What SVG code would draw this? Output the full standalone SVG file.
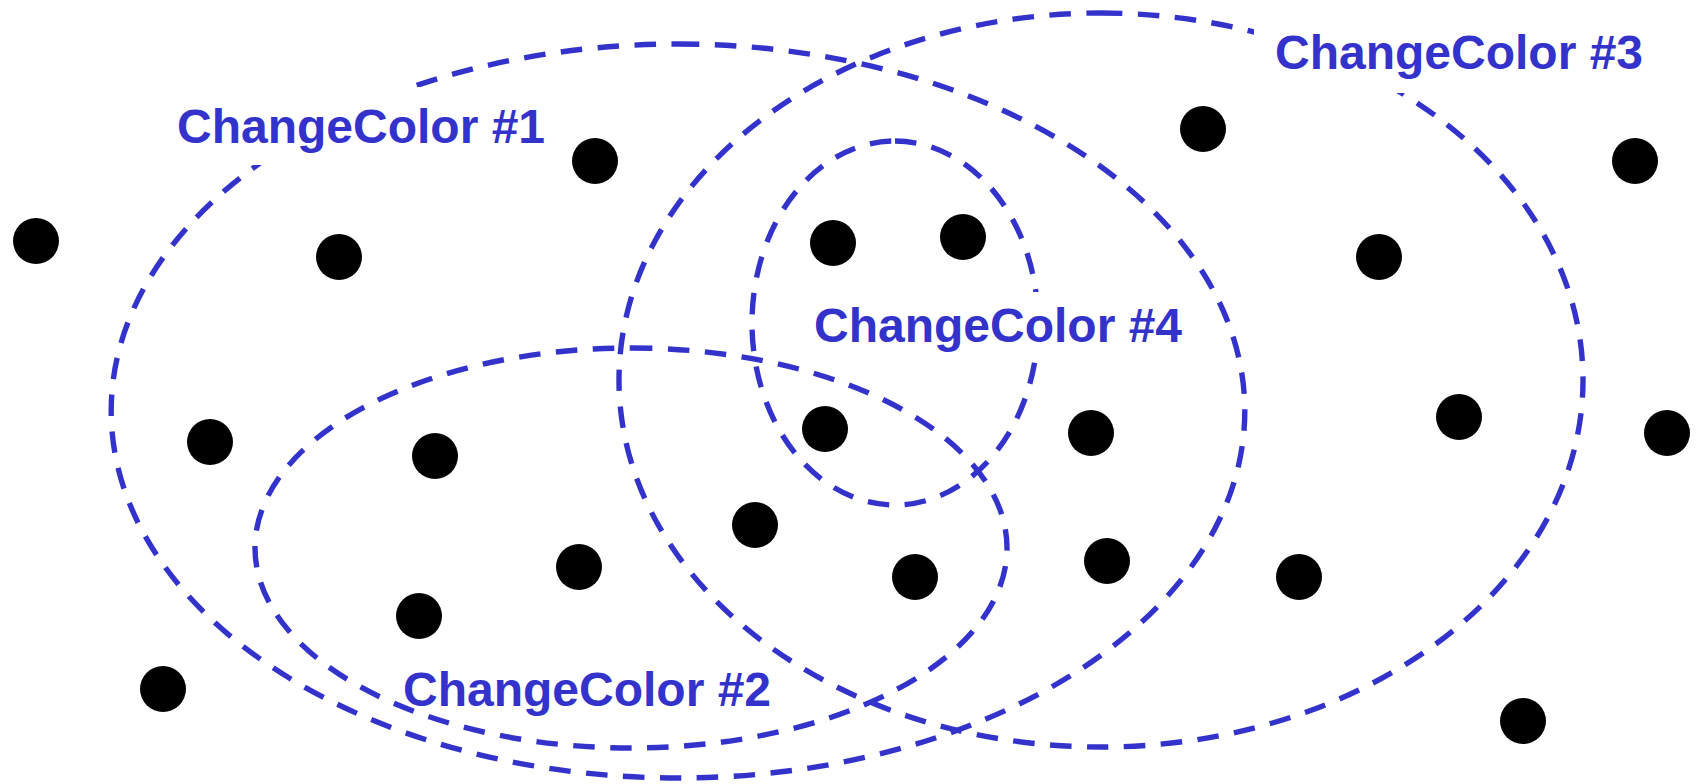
<svg xmlns="http://www.w3.org/2000/svg" width="1698" height="784" viewBox="0 0 1698 784">
  <style>
    .set { fill: none; stroke: #3333cc; stroke-width: 5.4; stroke-dasharray: 21.5 15.5; }
    .lblbox { fill: #ffffff; stroke: none; }
    .lbl { font-family: "Liberation Sans", Arial, sans-serif; font-weight: bold; font-size: 48px; fill: #3333cc; }
    .dot { fill: #000000; }
  </style>
  <rect x="0" y="0" width="1698" height="784" fill="#ffffff"/>

  <g id="connectors"></g>

  <g id="set-1">
    <path class="set" d="M678,44 A567,367 0 0 1 678,778 A567,367 0 0 1 678,44"/>
  </g>
  <g id="set-2">
    <path class="set" d="M631,348 A376,200 0 0 1 631,748 A376,200 0 0 1 631,348"/>
  </g>
  <g id="set-3">
    <path class="set" d="M1101,13 A482,367 0 0 1 1101,747 A482,367 0 0 1 1101,13"/>
  </g>
  <g id="set-4">
    <path class="set" d="M895,141 A143,182 0 0 1 895,505 A143,182 0 0 1 895,141"/>
  </g>

  <g id="label-1">
    <rect class="lblbox" x="153" y="87" width="410" height="78"/>
    <text class="lbl" x="177" y="143">ChangeColor #1</text>
  </g>
  <g id="label-2">
    <text class="lbl" x="403" y="706">ChangeColor #2</text>
  </g>
  <g id="label-3">
    <rect class="lblbox" x="1254" y="15" width="420" height="78"/>
    <text class="lbl" x="1275" y="69">ChangeColor #3</text>
  </g>
  <g id="label-4">
    <rect class="lblbox" x="792" y="292" width="412" height="68"/>
    <text class="lbl" x="814" y="342">ChangeColor #4</text>
  </g>

  <g id="dots">
    <circle id="dot-1" class="dot" cx="36" cy="241" r="23"/>
    <circle id="dot-2" class="dot" cx="339" cy="257" r="23"/>
    <circle id="dot-3" class="dot" cx="595" cy="161" r="23"/>
    <circle id="dot-4" class="dot" cx="833" cy="243" r="23"/>
    <circle id="dot-5" class="dot" cx="963" cy="237" r="23"/>
    <circle id="dot-6" class="dot" cx="1203" cy="129" r="23"/>
    <circle id="dot-7" class="dot" cx="1635" cy="161" r="23"/>
    <circle id="dot-8" class="dot" cx="1379" cy="257" r="23"/>
    <circle id="dot-9" class="dot" cx="210" cy="442" r="23"/>
    <circle id="dot-10" class="dot" cx="435" cy="456" r="23"/>
    <circle id="dot-11" class="dot" cx="825" cy="429" r="23"/>
    <circle id="dot-12" class="dot" cx="1091" cy="433" r="23"/>
    <circle id="dot-13" class="dot" cx="1459" cy="417" r="23"/>
    <circle id="dot-14" class="dot" cx="1667" cy="433" r="23"/>
    <circle id="dot-15" class="dot" cx="755" cy="525" r="23"/>
    <circle id="dot-16" class="dot" cx="579" cy="567" r="23"/>
    <circle id="dot-17" class="dot" cx="915" cy="577" r="23"/>
    <circle id="dot-18" class="dot" cx="1107" cy="561" r="23"/>
    <circle id="dot-19" class="dot" cx="1299" cy="577" r="23"/>
    <circle id="dot-20" class="dot" cx="419" cy="616" r="23"/>
    <circle id="dot-21" class="dot" cx="163" cy="689" r="23"/>
    <circle id="dot-22" class="dot" cx="1523" cy="721" r="23"/>
  </g>
</svg>
